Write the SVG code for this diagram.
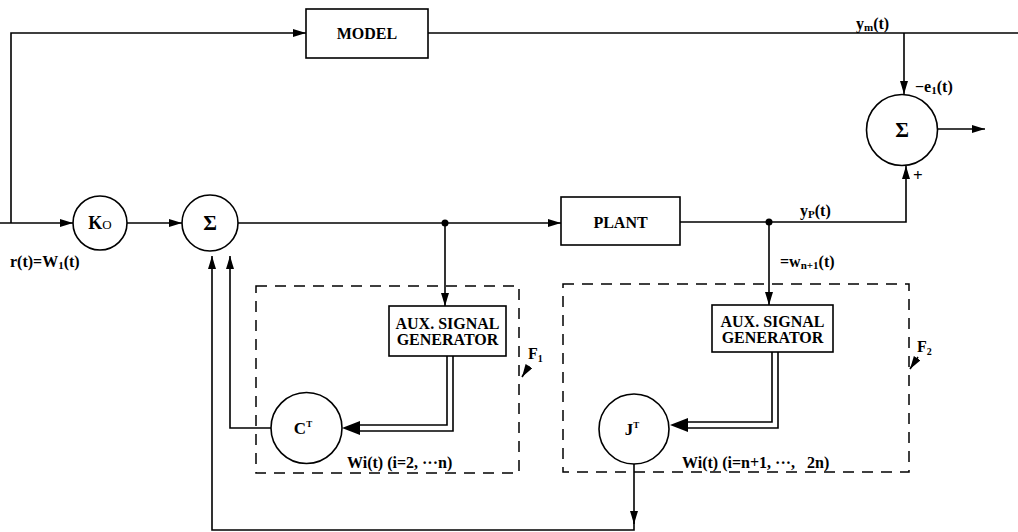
<svg xmlns="http://www.w3.org/2000/svg" width="1018" height="532" viewBox="0 0 1018 532">
<style>
.ln{fill:none;stroke:#000;stroke-width:1.6}
.blk{fill:#fff;stroke:#000;stroke-width:1.6}
.dash{fill:none;stroke:#000;stroke-width:1.5;stroke-dasharray:11 8}
.lbl{font-size:16px}
.box{font-size:16px;text-anchor:middle}
.sig{font-size:21px;text-anchor:middle}
</style>
<defs>
<marker id="ah" markerUnits="userSpaceOnUse" markerWidth="14" markerHeight="10" refX="13" refY="4" orient="auto">
<path d="M0,0 L13,4 L0,8 z" fill="#000"/>
</marker>
</defs>
<rect width="1018" height="532" fill="#fff"/>

<g id="connectors">
<polyline class="ln" points="0,223 73,223" marker-end="url(#ah)"/>
<polyline class="ln" points="11,223 11,33 306,33" marker-end="url(#ah)"/>
<line class="ln" x1="127" y1="223" x2="182" y2="223" marker-end="url(#ah)"/>
<line class="ln" x1="238" y1="223" x2="561" y2="223" marker-end="url(#ah)"/>
<circle cx="445" cy="223" r="3.5" fill="#000"/>
<line class="ln" x1="445" y1="223" x2="445" y2="306" marker-end="url(#ah)"/>
<line class="ln" x1="428" y1="33" x2="1018" y2="33"/>
<line class="ln" x1="904" y1="33" x2="904" y2="94" marker-end="url(#ah)"/>
<line class="ln" x1="937" y1="129" x2="985" y2="129" marker-end="url(#ah)"/>
<polyline class="ln" points="680,222 906,222 906,166" marker-end="url(#ah)"/>
<circle cx="769" cy="222" r="3.5" fill="#000"/>
<line class="ln" x1="769" y1="222" x2="769" y2="305" marker-end="url(#ah)"/>
<polyline class="ln" points="271,428 230,428 230,256" marker-end="url(#ah)"/>
<polyline class="ln" points="634,464 634,524" marker-end="url(#ah)"/>
<polyline class="ln" points="634,518 634,530 212,530 212,256" marker-end="url(#ah)"/>
<polyline class="ln" points="447,356 447,425 356,425"/>
<polyline class="ln" points="453,356 453,431 356,431"/>
<polygon points="342,428 360,421 360,435" fill="#000"/>
<polyline class="ln" points="772,352 772,422 684,422"/>
<polyline class="ln" points="778,352 778,428 684,428"/>
<polygon points="670,425 688,418 688,432" fill="#000"/>
<line class="ln" x1="529" y1="366" x2="522" y2="377" stroke-width="1.3" marker-end="url(#ah)"/>
<line class="ln" x1="918" y1="357" x2="910" y2="369" stroke-width="1.3" marker-end="url(#ah)"/>
</g>

<g style="font-family:'Liberation Serif',serif;font-weight:bold">
<g id="F1">
<rect class="dash" x="256" y="286" width="263" height="187"/>
<text class="lbl" x="528" y="359">F<tspan font-size="10" dy="3">1</tspan></text>
</g>
<g id="F2">
<rect class="dash" x="563" y="284" width="346" height="188"/>
<text class="lbl" x="917" y="352">F<tspan font-size="10" dy="3">2</tspan></text>
</g>

<g id="model">
<rect class="blk" x="306" y="9" width="122" height="49"/>
<text class="box" x="367" y="39" font-size="15">MODEL</text>
</g>
<g id="plant">
<rect class="blk" x="561" y="197" width="119" height="48"/>
<text class="box" x="620.5" y="228" font-size="17">PLANT</text>
</g>
<g id="k0">
<circle class="blk" cx="100" cy="223" r="27"/>
<text x="100" y="229" font-size="18" text-anchor="middle">K<tspan font-size="13" font-weight="normal">O</tspan></text>
</g>
<g id="sum1">
<circle class="blk" cx="210" cy="223" r="28"/>
<text class="sig" x="210" y="230">Σ</text>
</g>
<g id="sum2">
<circle class="blk" cx="902" cy="130" r="35.5"/>
<text class="sig" x="902" y="137">Σ</text>
</g>
<g id="aux1">
<rect class="blk" x="389" y="306" width="117" height="50"/>
<text class="box" x="447.5" y="329">AUX. SIGNAL</text>
<text class="box" x="447.5" y="345">GENERATOR</text>
</g>
<g id="aux2">
<rect class="blk" x="712" y="305" width="121" height="47"/>
<text class="box" x="772.5" y="327">AUX. SIGNAL</text>
<text class="box" x="772.5" y="343">GENERATOR</text>
</g>
<g id="ct">
<circle class="blk" cx="306.5" cy="428" r="35.5"/>
<text x="303" y="434" font-size="17" text-anchor="middle">C<tspan font-size="9" dy="-7">T</tspan></text>
</g>
<g id="jt">
<circle class="blk" cx="634" cy="429" r="35"/>
<text x="632" y="435" font-size="17" text-anchor="middle">J<tspan font-size="9" dy="-7">T</tspan></text>
</g>

<g id="labels">
<text class="lbl" x="856" y="29">y<tspan font-size="11" dy="2">m</tspan><tspan dy="-2">(t)</tspan></text>
<text class="lbl" x="915" y="92">−e<tspan font-size="11" dy="2">1</tspan><tspan dy="-2">(t)</tspan></text>
<text x="913" y="181" font-size="17">+</text>
<text class="lbl" x="800" y="216">y<tspan font-size="11" dy="2">P</tspan><tspan dy="-2">(t)</tspan></text>
<text class="lbl" x="780" y="267">=w<tspan font-size="11" dy="2">n+1</tspan><tspan dy="-2">(t)</tspan></text>
<text class="lbl" x="10" y="267">r(t)=W<tspan font-size="11" dy="2">1</tspan><tspan dy="-2">(t)</tspan></text>
<text class="lbl" x="347" y="468">Wi(t) (i=2, ···n)</text>
<text class="lbl" x="682" y="468">Wi(t) (i=n+1, ···,<tspan dx="12">2n)</tspan></text>
</g>
</g>
</svg>
